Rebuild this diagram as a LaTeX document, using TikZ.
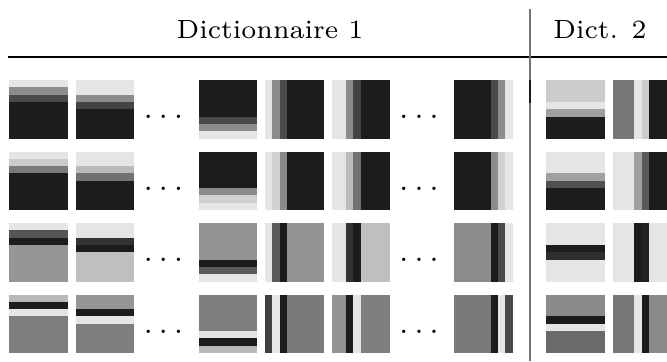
\documentclass[tikz,border=0pt]{standalone}
\usepackage{tikz}

% one 8x8 patch: stripes given from top to bottom (h) or left to right (v)
\newcommand{\htile}[3]{%
  \foreach \v [count=\k from 0] in {#3} {%
    \pgfmathsetmacro\g{\v/255}
    \definecolor{cellgray}{gray}{\g}
    \fill[cellgray] (#1,{#2+\k*7.3125}) rectangle ({#1+58.5},{#2+58.5});
  }}
\newcommand{\vtile}[3]{%
  \foreach \v [count=\k from 0] in {#3} {%
    \pgfmathsetmacro\g{\v/255}
    \definecolor{cellgray}{gray}{\g}
    \fill[cellgray] ({#1+\k*7.3125},#2) rectangle ({#1+58.5},{#2+58.5});
  }}

\begin{document}
\begin{tikzpicture}[x=0.5pt,y=-0.5pt,
    header/.style={anchor=base,
    font=\fontsize{7}{8}\selectfont,
    scale=1.88,
    transform shape},
    gap/.style={anchor=base,
    inner sep=0pt,
    font=\fontsize{16}{18}\selectfont}]
    \useasboundingbox (0,0) rectangle (667,361);
    \clip (0,0) rectangle (667,361);
    \node [header] (dictone) at (270,38) {Dictionnaire 1};
    \node [header] (dicttwo) at (600,38) {Dict. 2};
    \draw [line width=0.6pt] (8,57) -- (667,57);
    \draw [black!55, line width=1pt] (530,9) -- (530,361);
    \draw [black!90, line width=1pt] (530,80) -- (530,103);
    % row 1
    \htile{9}{80}{229,140,74,28,28,28,28,28}
    \htile{75.5}{80}{229,229,140,68,28,28,28,28}
    \htile{198.5}{80}{28,28,28,28,28,74,140,229}
    \vtile{265}{80}{229,140,74,28,28,28,28,28}
    \vtile{331.5}{80}{229,229,140,68,28,28,28,28}
    \vtile{454}{80}{28,28,28,28,28,74,140,229}
    \htile{546}{80}{204,204,204,229,160,28,28,28}
    \vtile{612.5}{80}{119,119,119,229,204,28,28,28}
    % row 2
    \htile{9}{151.5}{229,204,122,28,28,28,28,28}
    \htile{75.5}{151.5}{229,229,187,114,28,28,28,28}
    \htile{198.5}{151.5}{28,28,28,28,28,138,208,229}
    \vtile{265}{151.5}{229,208,138,28,28,28,28,28}
    \vtile{331.5}{151.5}{229,229,187,114,28,28,28,28}
    \vtile{454}{151.5}{28,28,28,28,28,140,208,229}
    \htile{546}{151.5}{229,229,229,160,80,28,28,28}
    \vtile{612.5}{151.5}{229,229,229,160,90,28,28,28}
    % row 3
    \htile{9}{223}{229,85,28,150,150,150,150,150}
    \htile{75.5}{223}{229,229,51,28,191,191,191,191}
    \htile{198.5}{223}{147,147,147,147,147,28,90,229}
    \vtile{265}{223}{229,90,28,147,147,147,147,147}
    \vtile{331.5}{223}{229,229,51,28,191,191,191,191}
    \vtile{454}{223}{140,140,140,140,140,28,74,229}
    \htile{546}{223}{229,229,229,28,46,229,229,229}
    \vtile{612.5}{223}{229,229,229,28,34,229,229,229}
    % row 4
    \htile{9}{294.5}{185,28,229,126,126,126,126,126}
    \htile{75.5}{294.5}{150,150,28,229,126,126,126,126}
    \htile{198.5}{294.5}{126,126,126,126,126,229,28,185}
    \vtile{265}{294.5}{64,229,28,122,122,122,122,122}
    \vtile{331.5}{294.5}{147,147,28,229,126,126,126,126}
    \vtile{454}{294.5}{122,122,122,122,122,28,229,74}
    \htile{546}{294.5}{138,138,138,28,229,106,106,106}
    \vtile{612.5}{294.5}{119,119,119,229,28,138,138,138}
    % skipped atoms
    \node [gap] (skipa1) at (163.5,118.5) {$\ldots$};
    \node [gap] (skipa2) at (163.5,190) {$\ldots$};
    \node [gap] (skipa3) at (163.5,261.5) {$\ldots$};
    \node [gap] (skipa4) at (163.5,333) {$\ldots$};
    \node [gap] (skipb1) at (419,118.5) {$\ldots$};
    \node [gap] (skipb2) at (419,190) {$\ldots$};
    \node [gap] (skipb3) at (419,261.5) {$\ldots$};
    \node [gap] (skipb4) at (419,333) {$\ldots$};
\end{tikzpicture}
\end{document}
